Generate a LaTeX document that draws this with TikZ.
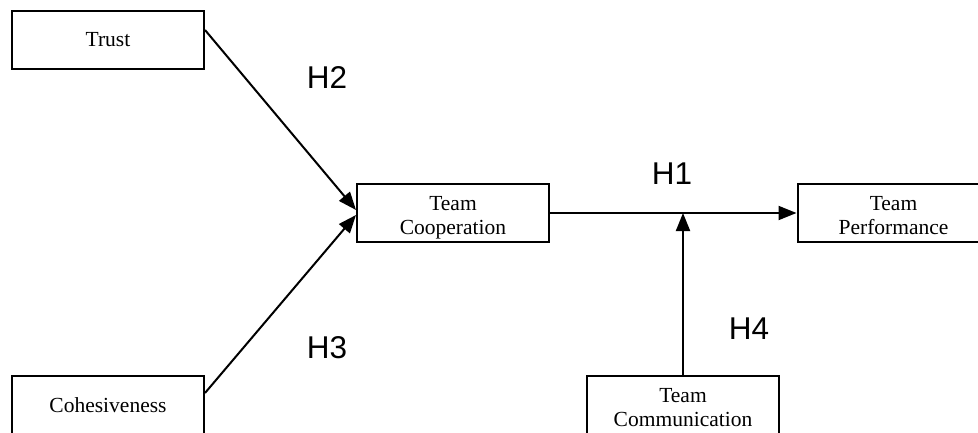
\documentclass[tikz,border=0pt]{standalone}
\usepackage{fontspec}
\setmainfont{Liberation Serif}
\newfontfamily\hfont{Liberation Sans}
\usetikzlibrary{arrows.meta}
\newcommand\twoline[2]{\raisebox{-5pt}[\height][\depth]{\begin{tabular}{@{}c@{}}#1\\#2\end{tabular}}}
\tikzset{
  box/.style={draw, line width=2pt, rectangle, minimum width=192pt, minimum height=58pt, inner sep=0pt, align=center, font=\fontsize{21.5}{24}\selectfont},
  conn/.style={line width=2pt, -{Triangle[length=18pt,width=14pt]}},
  hyp/.style={font=\hfont\fontsize{31.5}{31.5}\selectfont, inner sep=0pt}
}
\begin{document}
\begin{tikzpicture}[x=1pt,y=-1pt]
\useasboundingbox (0,0) rectangle (978,433);
\clip (0,0) rectangle (978,433);
\fill[white] (0,0) rectangle (978,433);
\node[box] (trust) at (108,40) {Trust};
\node[box] (cohes) at (108,405) {Cohesiveness};
\node[box] (coop) at (453,213) {\twoline{Team}{Cooperation}};
\node[box] (perf) at (893.5,213) {\twoline{Team}{Performance}};
\node[box] (comm) at (683,405) {\twoline{Team}{Communication}};
\draw[conn] ([yshift=10pt]trust.east) -- ([yshift=3pt]coop.west);
\draw[conn] ([yshift=12pt]cohes.east) -- ([yshift=-2pt]coop.west);
\draw[conn] (coop.east) -- (perf.west);
\draw[conn] (comm.north) -- (comm.north |- coop.east);
\node[hyp] (h2) at (327,78) {H2};
\node[hyp] (h3) at (327,348) {H3};
\node[hyp] (h1) at (672,174) {H1};
\node[hyp] (h4) at (749,329) {H4};
\end{tikzpicture}
\end{document}
